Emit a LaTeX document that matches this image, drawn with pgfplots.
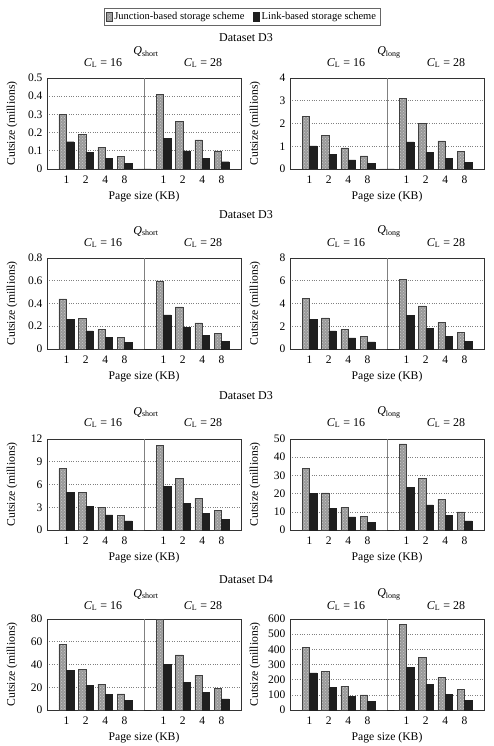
\documentclass[border=0pt]{standalone}
\usepackage{fontspec}
\setmainfont{Liberation Serif}
\usepackage{pgfplots}
\pgfplotsset{compat=1.18}
\usetikzlibrary{patterns}

\newcommand\tfont{\fontsize{12}{14}\selectfont}

\pgfplotsset{
  junction/.style={fill=black!40, draw=black!75, line width=0.5pt,
    postaction={pattern=crosshatch dots, pattern color=white!80!black}},
  link/.style={fill=black!88, draw=black!88, line width=0.3pt},
  cutpanel/.style={
    width=194pt, height=91pt, scale only axis,
    anchor=north west,
    ybar=0pt, bar width=7.4pt,
    xmin=0, xmax=10, ymin=0,
    xtick={1,2,3,4,6,7,8,9}, xticklabels={1,2,4,8,1,2,4,8},
    major tick length=0pt,
    ymajorgrids, grid style={dotted, black!50, line width=0.6pt},
    extra x ticks={5}, extra x tick labels={},
    extra x tick style={grid=major, major grid style={solid, black!50, line width=0.7pt}},
    axis line style={black!80, line width=0.7pt},
    xlabel={Page size (KB)}, ylabel={Cutsize (millions)},
    ylabel style={at={(axis description cs:-0.18,0.5)}, anchor=center},
    xlabel style={yshift=-1pt},
    tick label style={font=\fontsize{11.5}{13}\selectfont},
    xticklabel style={yshift=-3pt},
    label style={font=\fontsize{11.7}{13}\selectfont},
    /pgf/number format/assume math mode=true,
    /pgf/number format/fixed,
    scaled y ticks=false,
    yticklabel style={xshift=-1pt},
  },
}

\begin{document}
\begin{tikzpicture}
\useasboundingbox (0pt,0pt) rectangle (493pt,-746pt);

% ---------------- Row 1: Dataset D3 ----------------
\begin{axis}[cutpanel, at={(47pt,-78pt)}, ymax=0.5, ytick={0,0.1,0.2,0.3,0.4,0.5},
  legend style={at={(1.005,1.67)}, anchor=center, legend columns=2,
    draw=black!60, line width=0.6pt, font=\fontsize{10.5}{12}\selectfont,
    inner sep=2pt,
    /tikz/every even column/.append style={column sep=7pt}},
  legend image code/.code={\draw[#1] (0pt,-4.5pt) rectangle (6pt,4.5pt);}]
\addplot[junction] coordinates {(1,0.30) (2,0.19) (3,0.12) (4,0.07) (5,0) (6,0.41) (7,0.26) (8,0.16) (9,0.10)};
\addlegendentry{Junction-based storage scheme}
\addplot[link] coordinates {(1,0.15) (2,0.09) (3,0.06) (4,0.03) (5,0) (6,0.17) (7,0.10) (8,0.06) (9,0.04)};
\addlegendentry{Link-based storage scheme}
\end{axis}

\begin{axis}[cutpanel, at={(290pt,-78pt)}, ymax=4, ytick={0,1,2,3,4}]
\addplot[junction] coordinates {(1,2.30) (2,1.48) (3,0.93) (4,0.58) (5,0) (6,3.10) (7,1.99) (8,1.24) (9,0.79)};
\addplot[link] coordinates {(1,1.02) (2,0.65) (3,0.40) (4,0.25) (5,0) (6,1.19) (7,0.73) (8,0.46) (9,0.28)};
\end{axis}

% ---------------- Row 2: Dataset D3 ----------------
\begin{axis}[cutpanel, at={(47pt,-258pt)}, ymax=0.8, ytick={0,0.2,0.4,0.6,0.8}]
\addplot[junction] coordinates {(1,0.44) (2,0.27) (3,0.17) (4,0.10) (5,0) (6,0.60) (7,0.37) (8,0.23) (9,0.14)};
\addplot[link] coordinates {(1,0.26) (2,0.16) (3,0.10) (4,0.06) (5,0) (6,0.30) (7,0.19) (8,0.12) (9,0.07)};
\end{axis}

\begin{axis}[cutpanel, at={(290pt,-258pt)}, ymax=8, ytick={0,2,4,6,8}]
\addplot[junction] coordinates {(1,4.47) (2,2.74) (3,1.71) (4,1.09) (5,0) (6,6.15) (7,3.79) (8,2.32) (9,1.44)};
\addplot[link] coordinates {(1,2.59) (2,1.59) (3,0.97) (4,0.62) (5,0) (6,2.97) (7,1.82) (8,1.12) (9,0.68)};
\end{axis}

% ---------------- Row 3: Dataset D3 ----------------
\begin{axis}[cutpanel, at={(47pt,-439pt)}, ymax=12, ytick={0,3,6,9,12}]
\addplot[junction] coordinates {(1,8.1) (2,5.0) (3,3.0) (4,1.9) (5,0) (6,11.2) (7,6.8) (8,4.2) (9,2.6)};
\addplot[link] coordinates {(1,5.0) (2,3.1) (3,2.0) (4,1.2) (5,0) (6,5.8) (7,3.5) (8,2.2) (9,1.4)};
\end{axis}

\begin{axis}[cutpanel, at={(290pt,-439pt)}, ymax=50, ytick={0,10,20,30,40,50}]
\addplot[junction] coordinates {(1,34.0) (2,20.4) (3,12.3) (4,7.4) (5,0) (6,47.3) (7,28.3) (8,17.0) (9,10.0)};
\addplot[link] coordinates {(1,20.2) (2,12.0) (3,7.2) (4,4.3) (5,0) (6,23.3) (7,13.8) (8,8.1) (9,5.0)};
\end{axis}

% ---------------- Row 4: Dataset D4 ----------------
\begin{axis}[cutpanel, at={(47pt,-619pt)}, ymax=80, ytick={0,20,40,60,80}]
\addplot[junction] coordinates {(1,57.5) (2,35.7) (3,22.7) (4,14.2) (5,0) (6,80) (7,48.4) (8,30.4) (9,19.2)};
\addplot[link] coordinates {(1,35.1) (2,21.5) (3,13.6) (4,8.3) (5,0) (6,40.4) (7,24.5) (8,15.6) (9,9.7)};
\end{axis}

\begin{axis}[cutpanel, at={(290pt,-619pt)}, ymax=600, ytick={0,100,200,300,400,500,600}]
\addplot[junction] coordinates {(1,412) (2,255) (3,157) (4,100) (5,0) (6,565) (7,345) (8,215) (9,135)};
\addplot[link] coordinates {(1,245) (2,148) (3,92) (4,58) (5,0) (6,280) (7,168) (8,103) (9,65)};
\end{axis}

% ---------------- Titles ----------------
\foreach \yd/\yq/\yc/\ds in {38/52/63/D3, 215/231/243/D3, 396/412/423/D3, 580/594/606/D4} {
  \node[font=\tfont] at (246pt,-\yd pt) {Dataset \ds};
  \node[font=\tfont] at (146pt,-\yq pt) {\textit{Q}\textsubscript{short}};
  \node[font=\tfont] at (389pt,-\yq pt) {\textit{Q}\textsubscript{long}};
  \node[font=\tfont] at (103pt,-\yc pt) {\textit{C}\textsubscript{L} = 16};
  \node[font=\tfont] at (203pt,-\yc pt) {\textit{C}\textsubscript{L} = 28};
  \node[font=\tfont] at (346pt,-\yc pt) {\textit{C}\textsubscript{L} = 16};
  \node[font=\tfont] at (446pt,-\yc pt) {\textit{C}\textsubscript{L} = 28};
}
\end{tikzpicture}
\end{document}
